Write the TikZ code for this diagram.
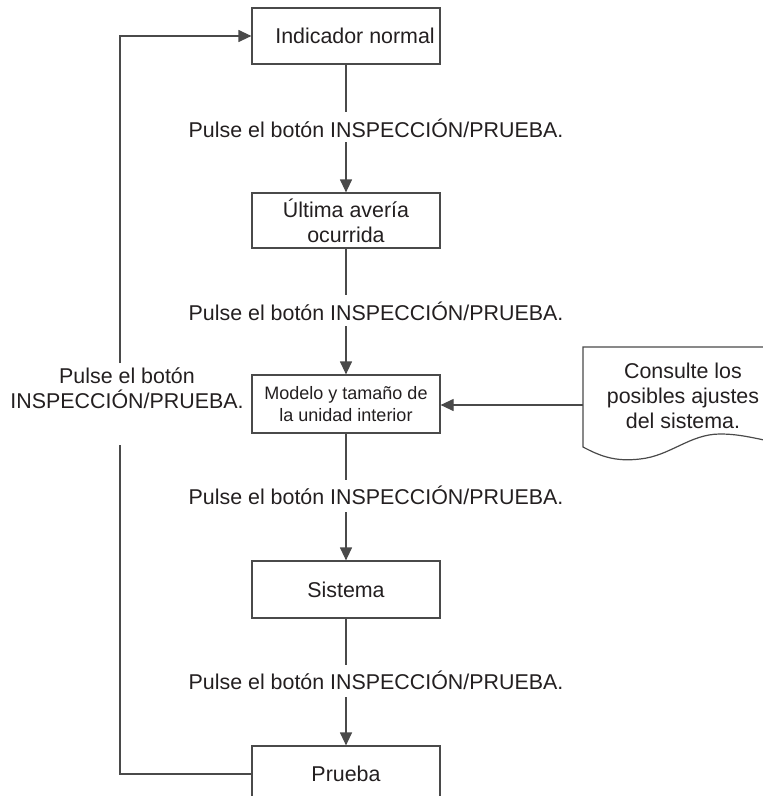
\documentclass[tikz,border=0pt]{standalone}
\usepackage{fontspec}
\setmainfont{Liberation Sans}
\usetikzlibrary{arrows.meta}
\definecolor{ink}{HTML}{231F20}
\definecolor{rule}{HTML}{4A4A4A}
\begin{document}
\begin{tikzpicture}[x=1pt,y=-1pt,
  stepbox/.style={draw=rule,line width=1.2pt,fill=white,minimum width=188pt,
    inner sep=0pt,align=center,text=ink,font=\fontsize{21.4}{25}\selectfont},
  smallbox/.style={stepbox,font=\fontsize{18}{22}\selectfont},
  lbl/.style={text=ink,font=\fontsize{21.4}{25}\selectfont,align=center,inner sep=0pt},
  link/.style={draw=rule,line width=1.2pt},
  arr/.style={link,-{Triangle[length=13pt,width=12pt]}}]
\useasboundingbox (0,0) rectangle (763,796);
\begin{scope}
\clip (0,0) rectangle (763,796);

% main sequence of displays
\node[stepbox,minimum height=56pt] (b1) at (346,36) {\hspace*{18pt}Indicador normal};
\node[stepbox,minimum height=55pt] (b2) at (346,220.5) {Última avería\\ocurrida};
\node[smallbox,minimum height=58pt] (b3) at (346,404) {Modelo y tamaño de\\la unidad interior};
\node[stepbox,minimum height=57pt] (b4) at (346,589.5) {Sistema};
\node[stepbox,minimum height=56pt] (b5) at (346,774) {Prueba};

% button instructions between the displays
\node[lbl] (l1) at (376,128) {Pulse el botón INSPECCIÓN/PRUEBA.};
\node[lbl] (l2) at (376,311) {Pulse el botón INSPECCIÓN/PRUEBA.};
\node[lbl] (l3) at (376,495) {Pulse el botón INSPECCIÓN/PRUEBA.};
\node[lbl] (l4) at (376,680) {Pulse el botón INSPECCIÓN/PRUEBA.};
\node[lbl] (lr) at (127,388) {Pulse el botón\\INSPECCIÓN/PRUEBA.};

% gap ends of the vertical connectors
\coordinate (g1a) at (346,112); \coordinate (g1b) at (346,142);
\coordinate (g2a) at (346,295); \coordinate (g2b) at (346,326);
\coordinate (g3a) at (346,480); \coordinate (g3b) at (346,512);
\coordinate (g4a) at (346,665); \coordinate (g4b) at (346,697);

\draw[link] (b1.south) -- (g1a);
\draw[arr] (g1b) -- (b2.north);
\draw[link] (b2.south) -- (g2a);
\draw[arr] (g2b) -- (b3.north);
\draw[link] (b3.south) -- (g3a);
\draw[arr] (g3b) -- (b4.north);
\draw[link] (b4.south) -- (g4a);
\draw[arr] (g4b) -- (b5.north);

% return loop on the left
\coordinate (rlow) at (120,445);
\coordinate (rhigh) at (120,363);
\draw[link] (b5.west) -| (rlow);
\draw[arr] (rhigh) |- (b1.west);

% document symbol with the note
\draw[draw=rule,line width=1.2pt,fill=white]
  (800,347) -- (583,347) -- (583,447)
  .. controls (600,456) and (615,462) .. (640,459)
  .. controls (670,456) and (690,434) .. (720,434)
  .. controls (740,434) and (755,438) .. (800,448);
\node[lbl] (doc) at (683,396) {Consulte los\\posibles ajustes\\del sistema.};
\coordinate (docw) at (583,405);
\draw[arr] (docw) -- (docw -| b3.east);
\end{scope}
\end{tikzpicture}
\end{document}
